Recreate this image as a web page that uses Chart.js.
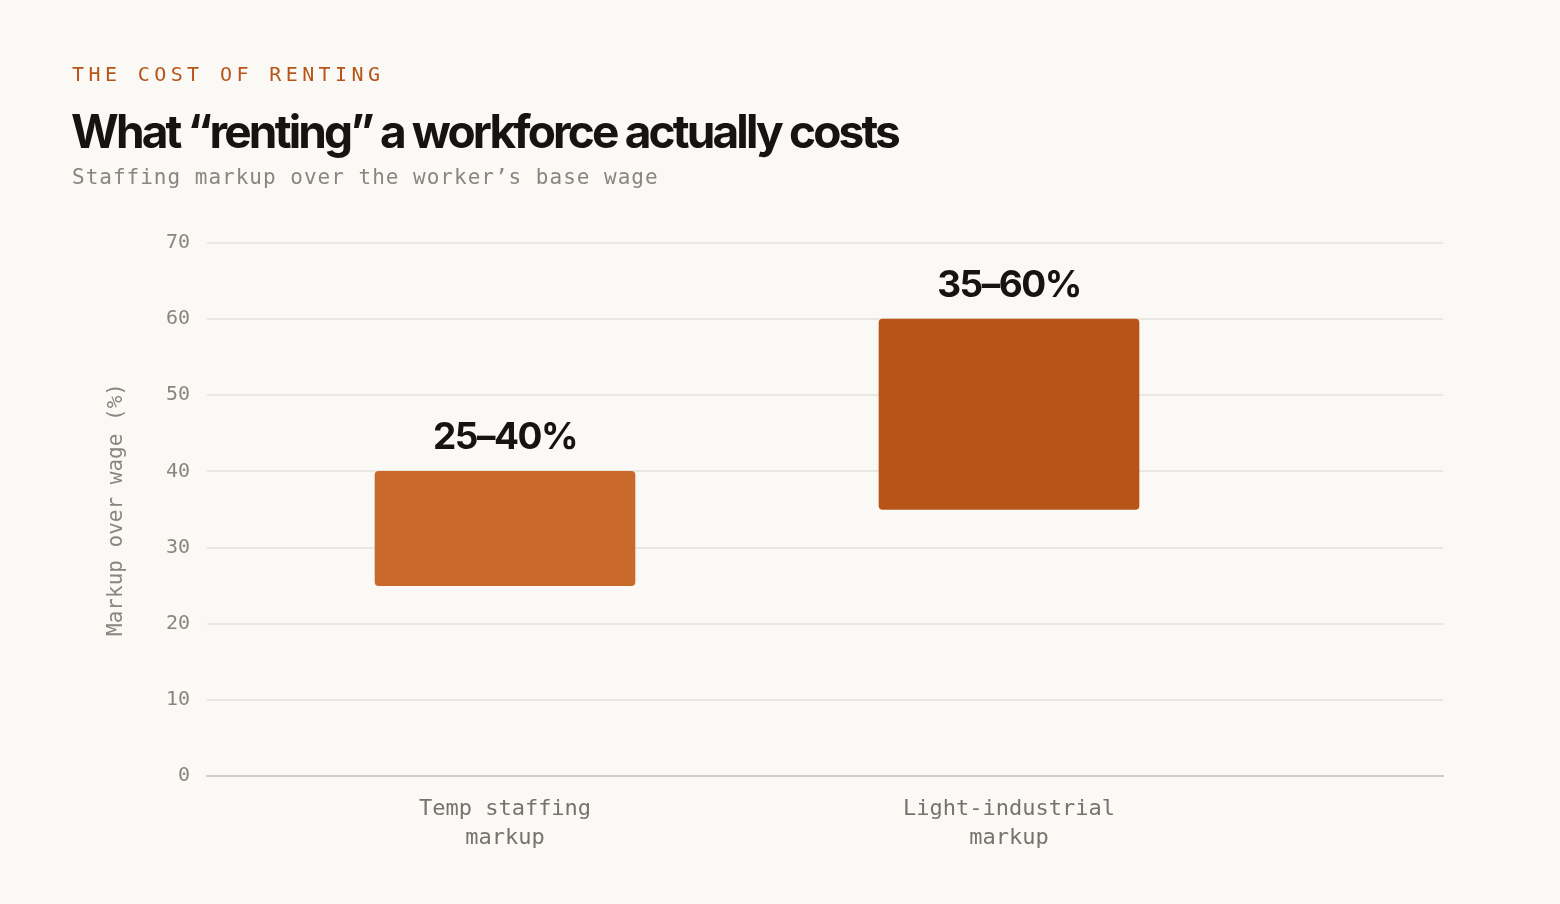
<!DOCTYPE html>
<html>
<head>
<meta charset="utf-8">
<script src="https://cdn.jsdelivr.net/npm/chart.js@4.4.1/dist/chart.umd.min.js"></script>
<style>
  html, body { margin: 0; padding: 0; background: #faf9f6; }
  body { width: 1560px; height: 904px; position: relative; overflow: hidden; }
  #wrap { position: absolute; left: 0; top: 0; width: 1560px; height: 904px; }
  .kicker {
    position: absolute; left: 72px; top: 62px;
    font: 20px "DejaVu Sans Mono", monospace; letter-spacing: 4.4px;
    color: #b85417;
  }
  .title {
    position: absolute; left: 71px; top: 103px; margin: 0;
    font: 700 46px Inter, sans-serif; letter-spacing: -2.85px;
    color: #151411; white-space: nowrap;
  }
  .sub {
    position: absolute; left: 72px; top: 165px;
    font: 21px "DejaVu Sans Mono", monospace; letter-spacing: 1px;
    color: #8a867d;
  }
</style>
</head>
<body>
<div id="wrap"><canvas id="chart" width="1560" height="904"></canvas></div>
<div class="kicker">THE COST OF RENTING</div>
<h1 class="title">What “renting” a workforce actually costs</h1>
<div class="sub">Staffing markup over the worker’s base wage</div>

<script>
// ---- datos ----
const categorias = [["Temp staffing", "markup"], ["Light-industrial", "markup"]];
const minimos = [25, 35];
const maximos = [40, 60];
const coloresBarra = ["#c96a2c", "#b85417"];
const yTicks = [0, 10, 20, 30, 40, 50, 60, 70];

// etiquetas "25–40%" encima de cada barra
const etiquetasRango = {
  id: "etiquetasRango",
  afterDatasetsDraw(chart) {
    const { ctx } = chart;
    const meta = chart.getDatasetMeta(0);
    ctx.save();
    ctx.font = "700 37px Inter, sans-serif";
    ctx.letterSpacing = "-1.5px";
    ctx.fillStyle = "#151411";
    ctx.textAlign = "center";
    ctx.textBaseline = "alphabetic";
    meta.data.forEach((bar, i) => {
      const top = Math.min(bar.y, bar.base);
      ctx.fillText(`${minimos[i]}–${maximos[i]}%`, bar.x, top - 22);
    });
    ctx.restore();
  },
};

const datos = categorias.map((c, i) => ({ x: i, y: [minimos[i], maximos[i]] }));

new Chart(document.getElementById("chart"), {
  type: "bar",
  data: {
    datasets: [
      {
        data: datos,
        backgroundColor: coloresBarra,
        borderRadius: 4,
        borderSkipped: false,
        barThickness: 260,
      },
    ],
  },
  options: {
    responsive: false,
    animation: false,
    events: [],
    layout: { padding: { top: 243, left: 104, right: 117, bottom: 20 } },
    plugins: { legend: { display: false }, tooltip: { enabled: false } },
    scales: {
      x: {
        type: "linear",
        offset: false,
        min: -0.5913,
        max: 1.8611,
        grid: { display: false },
        border: { display: true, color: "#cfccc5", width: 2 },
        afterBuildTicks: (s) => { s.ticks = categorias.map((c, i) => ({ value: i })); },
        afterFit: (s) => { s.height = 904 - 776 - 20; },
        ticks: {
          autoSkip: false,
          maxRotation: 0,
          padding: 11,
          color: "#77736b",
          font: { family: "'DejaVu Sans Mono', monospace", size: 22, lineHeight: 1.32 },
          callback: (v) => categorias[v] || "",
        },
      },
      y: {
        min: 0,
        max: 70,
        afterBuildTicks: (s) => { s.ticks = yTicks.map((v) => ({ value: v })); },
        afterFit: (s) => { s.width = 207 - 104; },
        grid: { color: "#e9e7e2", lineWidth: 2, drawTicks: false },
        border: { display: false },
        ticks: {
          padding: 17,
          color: "#8a867d",
          font: { family: "'DejaVu Sans Mono', monospace", size: 20 },
        },
        title: {
          display: true,
          text: "Markup over wage (%)",
          color: "#8a867d",
          font: { family: "'DejaVu Sans Mono', monospace", size: 21 },
          padding: { top: 0, bottom: 0 },
        },
      },
    },
  },
  plugins: [etiquetasRango],
});
</script>
</body>
</html>
